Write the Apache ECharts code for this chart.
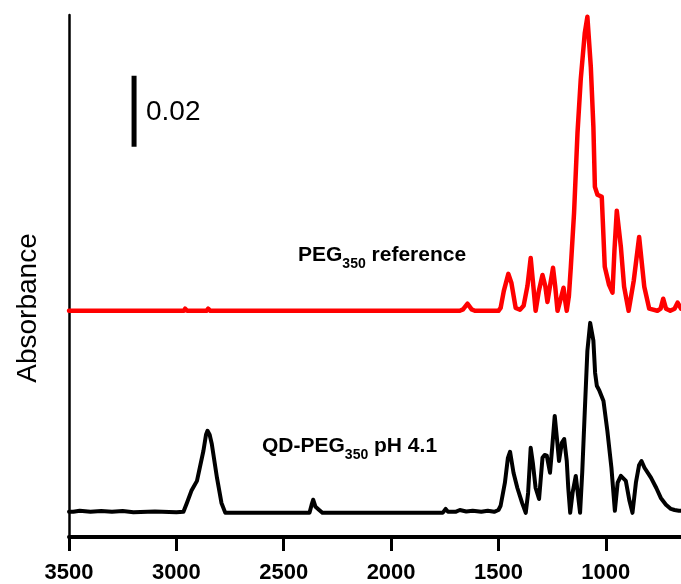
<!DOCTYPE html>
<html>
<head>
<meta charset="utf-8">
<script src="https://cdn.jsdelivr.net/npm/echarts@6/dist/echarts.min.js"></script>
<style>
  html, body { margin: 0; padding: 0; background: #fff; }
  #chart { width: 681px; height: 584px; }
</style>
</head>
<body>
<div id="chart"></div>
<script>
// Wavenumber ticks (cm^-1)
const xTicks = [3500, 3000, 2500, 2000, 1500, 1000];

// PEG350 reference spectrum: wavenumber (cm^-1) and absorbance above its baseline
const pegWavenumber = [
  3500, 3000, 2965, 2959, 2950, 2860, 2852, 2842, 1680, 1665, 1644, 1625, 1610,
  1500, 1490, 1475, 1454, 1440, 1420, 1400, 1383, 1365, 1350, 1340, 1327,
  1312, 1295, 1282, 1272, 1260, 1246, 1236, 1225, 1210, 1197, 1188, 1182,
  1172, 1163, 1148, 1132, 1117, 1098, 1086, 1070, 1058, 1051, 1039, 1019,
  1005, 985, 969, 960, 949, 930, 915, 894, 870, 845, 821, 798,
  760, 745, 733, 720, 700, 680, 666, 650
];
const pegAbsorbance = [
  0, 0, 0, 0.0006, 0, 0, 0.0006, 0, 0, 0.0004, 0.0020, 0.0004, 0,
  0, 0.0008, 0.0056, 0.0104, 0.0079, 0.0008, 0.0003, 0.0014, 0.0070, 0.0149, 0.0085, 0,
  0.0056, 0.0101, 0.0070, 0.0025, 0.0070, 0.0121, 0.0070, 0, 0.0034, 0.0065, 0.0023, 0,
  0.0042, 0.0124, 0.0276, 0.0501, 0.0651, 0.0783, 0.0828, 0.0687, 0.0518, 0.0349, 0.0327, 0.0321,
  0.0124, 0.0073, 0.0051, 0.0169, 0.0282, 0.0180, 0.0068, 0, 0.0085, 0.0208, 0.0068, 0.0006,
  0, 0.0006, 0.0034, 0.0006, 0, 0.0006, 0.0023, 0.0006
];

// QD-PEG350 at pH 4.1: wavenumber (cm^-1) and absorbance above its baseline
const qdWavenumber = [
  3500, 3480, 3450, 3400, 3350, 3300, 3250, 3200, 3100, 3000, 2967, 2951, 2930,
  2904, 2874, 2862, 2855, 2845, 2835, 2811, 2790, 2772, 2380, 2370, 2363, 2352,
  2345, 2335, 2320, 1760, 1746, 1735, 1700, 1680, 1650, 1620, 1580, 1550, 1520,
  1500, 1490, 1470, 1456, 1446, 1430, 1412, 1390, 1373, 1362, 1350, 1340, 1327,
  1311, 1295, 1285, 1275, 1260, 1250, 1238, 1228, 1218, 1205, 1194, 1182, 1175,
  1166, 1155, 1140, 1128, 1120, 1110, 1098, 1086, 1073, 1058, 1050, 1042, 1030,
  1011, 993, 974, 958, 945, 930, 907, 890, 876, 860, 845, 834, 820, 790, 765,
  744, 720, 697, 680, 660, 650
];
const qdAbsorbance = [
  0.0003, 0.0003, 0.0006, 0.0003, 0.0005, 0.0003, 0.0005, 0.0002, 0.0004, 0.0002, 0.0003, 0.0028, 0.0062,
  0.0090, 0.0175, 0.0220, 0.0231, 0.0220, 0.0194, 0.0099, 0.0028, 0, 0, 0.0023, 0.0037, 0.0017,
  0.0020, 0.0008, 0, 0, 0.0011, 0.0003, 0.0003, 0.0008, 0.0004, 0.0006, 0.0003, 0.0006, 0.0003,
  0.0008, 0.0020, 0.0085, 0.0155, 0.0172, 0.0113, 0.0070, 0.0028, 0, 0.0056, 0.0183, 0.0141, 0.0070,
  0.0039, 0.0155, 0.0163, 0.0161, 0.0113, 0.0183, 0.0273, 0.0211, 0.0146, 0.0197, 0.0208, 0.0146, 0.0070,
  0, 0.0056, 0.0104, 0.0042, 0, 0.0113, 0.0287, 0.0456, 0.0535, 0.0485, 0.0394, 0.0358, 0.0344,
  0.0315, 0.0231, 0.0127, 0.0006, 0.0085, 0.0104, 0.0090, 0.0034, 0, 0.0085, 0.0135, 0.0146, 0.0127, 0.0099, 0.0070,
  0.0042, 0.0023, 0.0011, 0.0008, 0.0006, 0.0006
];

// Vertical stacking offsets of the two traces and the absorbance scale bar
const qdOffset = 0.0068;
const pegOffset = 0.0637;
const scaleBarSize = 0.02;
const scaleBarX = 3197;
const scaleBarBottom = 0.1099;

const pair = (xs, ys, off) => xs.map((x, i) => [x, ys[i] + off]);

const chart = echarts.init(document.getElementById('chart'), null, { renderer: 'canvas' });

chart.setOption({
  animation: false,
  backgroundColor: '#ffffff',
  grid: { left: 69, right: 0, top: 15, bottom: 47, containLabel: false },
  xAxis: {
    type: 'value',
    min: 650,
    max: 3500,
    inverse: true,
    splitLine: { show: false },
    axisLine: { show: true, onZero: false, lineStyle: { color: '#000', width: 4 } },
    axisTick: {
      show: true, inside: false, length: 14,
      customValues: xTicks,
      lineStyle: { color: '#000', width: 3 }
    },
    axisLabel: {
      customValues: xTicks,
      formatter: (v) => String(v),
      margin: 25,
      color: '#000',
      fontFamily: 'Liberation Sans, Arial, sans-serif',
      fontWeight: 'bold',
      fontSize: 22
    }
  },
  yAxis: {
    type: 'value',
    min: 0,
    max: 0.147,
    splitLine: { show: false },
    axisLine: { show: true, onZero: false, lineStyle: { color: '#000', width: 2.5 } },
    axisTick: { show: false },
    axisLabel: { show: false }
  },
  graphic: [
    {
      type: 'text',
      x: 28, y: 308, rotation: Math.PI / 2,
      style: {
        text: 'Absorbance', fill: '#000',
        font: '28px "Liberation Sans", Arial, sans-serif',
        align: 'center', verticalAlign: 'middle'
      }
    },
    {
      type: 'text',
      x: 146, y: 112,
      style: {
        text: '0.02', fill: '#000',
        font: '28px "Liberation Sans", Arial, sans-serif',
        align: 'left', verticalAlign: 'middle'
      }
    },
    {
      type: 'text',
      x: 298, y: 254,
      style: {
        text: '{m|PEG}{s|350}{m| reference}',
        fill: '#000', align: 'left', verticalAlign: 'middle',
        rich: {
          m: { fontFamily: 'Liberation Sans, Arial', fontWeight: 'bold', fontSize: 21, verticalAlign: 'bottom', lineHeight: 24 },
          s: { fontFamily: 'Liberation Sans, Arial', fontWeight: 'bold', fontSize: 14, verticalAlign: 'bottom', lineHeight: 19, padding: [0, 0, -5, 0] }
        }
      }
    },
    {
      type: 'text',
      x: 262, y: 445,
      style: {
        text: '{m|QD-PEG}{s|350}{m| pH 4.1}',
        fill: '#000', align: 'left', verticalAlign: 'middle',
        rich: {
          m: { fontFamily: 'Liberation Sans, Arial', fontWeight: 'bold', fontSize: 21, verticalAlign: 'bottom', lineHeight: 24 },
          s: { fontFamily: 'Liberation Sans, Arial', fontWeight: 'bold', fontSize: 14, verticalAlign: 'bottom', lineHeight: 19, padding: [0, 0, -5, 0] }
        }
      }
    }
  ],
  series: [
    {
      name: 'QD-PEG350 pH 4.1',
      type: 'line',
      data: pair(qdWavenumber, qdAbsorbance, qdOffset),
      showSymbol: false,
      lineStyle: { color: '#000', width: 4, join: 'round', cap: 'round' },
      z: 3
    },
    {
      name: 'PEG350 reference',
      type: 'line',
      data: pair(pegWavenumber, pegAbsorbance, pegOffset),
      showSymbol: false,
      lineStyle: { color: '#ff0000', width: 4.5, join: 'round', cap: 'round' },
      z: 4
    },
    {
      name: 'scale',
      type: 'line',
      data: [[scaleBarX, scaleBarBottom], [scaleBarX, scaleBarBottom + scaleBarSize]],
      showSymbol: false,
      lineStyle: { color: '#000', width: 5, cap: 'butt' },
      z: 5
    }
  ]
});
</script>
</body>
</html>
